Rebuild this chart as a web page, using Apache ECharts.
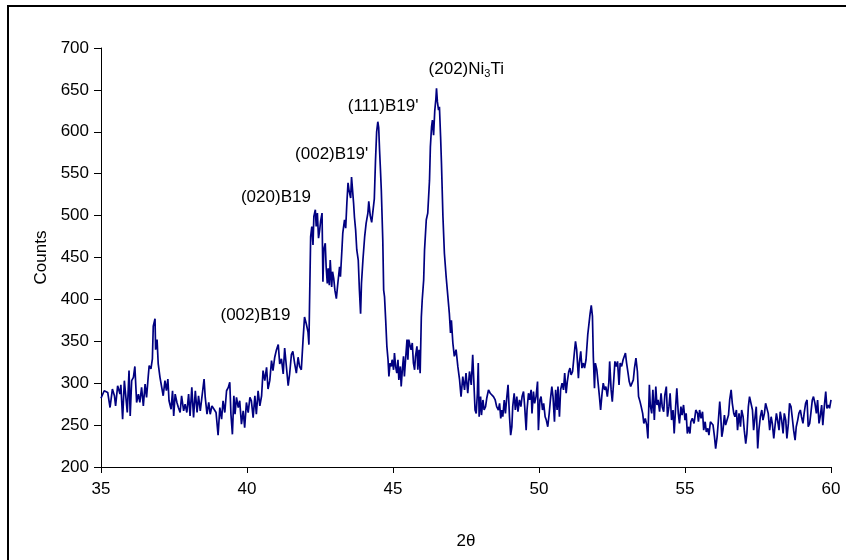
<!DOCTYPE html>
<html>
<head>
<meta charset="utf-8">
<script src="https://cdn.jsdelivr.net/npm/echarts@6/dist/echarts.min.js"></script>
<style>
html,body{margin:0;padding:0;background:#fff;}
#chart{width:846px;height:560px;}
</style>
</head>
<body>
<div id="chart"></div>
<script>
// 2θ positions (degrees)
var twoTheta = [
35.00,35.11,35.23,35.31,35.39,35.46,35.50,35.57,35.65,35.68,
35.74,35.80,35.84,35.90,35.96,36.00,36.05,36.11,36.16,36.22,
36.28,36.33,36.39,36.45,36.51,36.56,36.62,36.65,36.71,36.76,
36.79,36.85,36.87,36.92,36.96,37.02,37.08,37.13,37.19,37.24,
37.29,37.33,37.40,37.45,37.49,37.54,37.60,37.65,37.71,37.76,
37.83,37.88,37.94,38.00,38.05,38.11,38.17,38.23,38.29,38.34,
38.40,38.46,38.53,38.57,38.63,38.69,38.74,38.80,38.86,38.94,
39.01,39.07,39.13,39.18,39.24,39.30,39.36,39.41,39.45,39.50,
39.55,39.59,39.64,39.70,39.75,39.81,39.87,39.92,39.98,40.04,
40.10,40.15,40.21,40.27,40.32,40.38,40.44,40.50,40.55,40.61,
40.67,40.72,40.78,40.84,40.89,40.95,41.01,41.07,41.12,41.18,
41.24,41.29,41.35,41.41,41.46,41.52,41.57,41.63,41.69,41.75,
41.80,41.86,41.92,41.97,42.03,42.09,42.12,42.14,42.18,42.22,
42.26,42.29,42.34,42.37,42.41,42.45,42.49,42.52,42.57,42.60,
42.63,42.68,42.71,42.75,42.78,42.82,42.85,42.90,42.93,42.97,
43.01,43.06,43.11,43.17,43.20,43.25,43.28,43.34,43.38,43.42,
43.46,43.49,43.55,43.58,43.60,43.65,43.68,43.72,43.76,43.81,
43.85,43.89,43.92,43.97,44.03,44.08,44.14,44.17,44.22,44.27,
44.32,44.36,44.40,44.44,44.48,44.51,44.54,44.57,44.60,44.65,
44.68,44.71,44.75,44.79,44.83,44.86,44.90,44.94,44.97,45.02,
45.05,45.09,45.13,45.17,45.20,45.25,45.28,45.32,45.36,45.39,
45.43,45.48,45.51,45.54,45.59,45.62,45.66,45.70,45.74,45.77,
45.82,45.85,45.89,45.93,45.97,46.00,46.05,46.08,46.14,46.19,
46.25,46.28,46.32,46.35,46.39,46.43,46.47,46.49,46.52,46.56,
46.59,46.63,46.66,46.71,46.76,46.82,46.88,46.93,46.97,47.00,
47.05,47.10,47.16,47.22,47.28,47.33,47.39,47.45,47.50,47.56,
47.62,47.68,47.73,47.77,47.81,47.85,47.89,47.92,47.95,48.00,
48.03,48.08,48.12,48.17,48.21,48.27,48.33,48.38,48.44,48.50,
48.55,48.61,48.65,48.69,48.73,48.76,48.81,48.85,48.90,48.94,
48.99,49.03,49.07,49.10,49.15,49.19,49.24,49.28,49.33,49.38,
49.42,49.47,49.51,49.56,49.59,49.64,49.68,49.73,49.76,49.81,
49.85,49.90,49.95,49.98,50.03,50.07,50.12,50.16,50.21,50.25,
50.30,50.35,50.39,50.44,50.48,50.53,50.57,50.62,50.65,50.70,
50.74,50.79,50.84,50.88,50.93,50.97,51.02,51.06,51.10,51.15,
51.21,51.25,51.29,51.35,51.38,51.43,51.47,51.52,51.56,51.61,
51.67,51.70,51.75,51.79,51.83,51.86,51.90,51.93,51.98,52.02,
52.07,52.11,52.16,52.20,52.25,52.29,52.34,52.39,52.42,52.47,
52.51,52.56,52.60,52.65,52.69,52.74,52.78,52.83,52.88,52.92,
52.96,53.00,53.05,53.09,53.14,53.18,53.23,53.27,53.32,53.37,
53.41,53.46,53.50,53.55,53.59,53.64,53.69,53.73,53.78,53.81,
53.86,53.90,53.95,54.00,54.04,54.08,54.13,54.18,54.22,54.27,
54.31,54.36,54.40,54.45,54.49,54.54,54.59,54.63,54.68,54.72,
54.77,54.81,54.86,54.90,54.95,55.00,55.04,55.08,55.12,55.17,
55.20,55.25,55.31,55.37,55.43,55.46,55.50,55.55,55.60,55.64,
55.69,55.73,55.78,55.82,55.87,55.92,55.96,56.01,56.05,56.10,
56.14,56.19,56.22,56.26,56.30,56.35,56.39,56.44,56.49,56.53,
56.58,56.62,56.67,56.71,56.76,56.80,56.85,56.90,56.94,56.99,
57.03,57.08,57.12,57.17,57.21,57.26,57.31,57.35,57.40,57.44,
57.49,57.53,57.58,57.63,57.67,57.72,57.76,57.81,57.85,57.90,
57.95,57.99,58.04,58.08,58.13,58.17,58.22,58.26,58.31,58.36,
58.40,58.45,58.49,58.54,58.58,58.63,58.67,58.72,58.77,58.81,
58.86,58.90,58.95,58.99,59.04,59.08,59.13,59.18,59.22,59.27,
59.31,59.36,59.40,59.45,59.50,59.54,59.59,59.63,59.68,59.72,
59.77,59.82,59.86,59.91,59.95,60.00
];
// Counts at each 2θ
var counts = [
282,291,289,271,293,285,273,297,287,298,
257,303,305,265,315,261,303,307,320,277,
287,277,295,273,299,283,309,321,317,329,
368,377,340,352,323,307,305,285,303,291,
305,279,269,291,261,287,277,271,265,285,
267,275,265,287,261,295,259,291,265,285,
267,269,305,283,263,277,263,273,271,265,
238,271,257,279,265,291,295,301,263,239,
285,263,283,271,279,251,267,247,277,265,
283,279,259,285,263,291,273,285,315,303,
319,293,303,327,315,331,340,346,323,329,
311,342,340,297,311,334,338,324,312,331,
320,316,352,379,371,361,346,391,475,487,
465,499,507,487,503,473,483,493,503,421,
459,467,439,419,437,417,447,415,433,425,
411,401,419,439,427,459,479,495,485,515,
539,531,521,546,548,515,498,483,459,447,
411,383,419,447,475,491,503,517,500,492,
494,520,565,600,612,605,578,555,530,471,
411,403,375,344,328,308,324,320,328,316,
336,320,312,328,304,320,296,316,332,308,
328,352,328,352,344,340,348,324,316,332,
344,316,340,312,379,399,423,459,495,503,
542,582,606,614,596,625,640,652,636,626,
630,594,562,499,455,427,403,383,360,375,
348,332,340,320,304,284,308,292,312,288,
314,298,334,336,268,264,288,324,260,284,
262,280,268,272,282,292,288,290,284,280,
272,268,276,258,268,260,280,264,284,298,
260,238,248,272,288,268,284,266,280,272,
284,290,272,244,268,288,280,292,264,290,
276,284,302,244,280,284,268,276,260,256,
248,264,280,296,284,254,292,268,296,260,
292,300,292,312,288,302,314,318,310,314,
336,350,340,306,324,338,318,324,318,328,
358,360,383,393,380,332,294,324,316,316,
284,268,288,300,292,296,284,300,326,292,
278,304,326,320,326,298,324,320,328,330,
336,324,312,302,296,294,304,318,330,314,
284,278,272,264,252,258,250,234,298,274,
264,292,256,296,274,280,266,288,272,266,
286,296,260,272,288,256,268,240,272,294,
264,252,272,262,274,256,264,240,248,240,
254,258,252,268,264,254,268,258,266,244,
254,242,246,238,254,256,250,236,222,236,
254,278,264,236,244,262,250,256,262,280,
292,276,264,260,268,244,264,248,268,260,
244,228,240,272,284,286,268,244,260,272,
222,244,260,268,256,264,276,274,264,244,
260,252,234,248,264,256,244,266,256,240,
264,256,234,252,276,272,260,244,232,248,
256,264,268,260,252,264,276,280,248,252,
264,280,284,276,264,280,252,260,274,250,
272,290,270,274,270,280
];
// Axis tick settings
var xMin = 35, xMax = 60, xStep = 5;
var yMin = 200, yMax = 700, yStep = 50;
// Peak annotations
var peakNames = ['(002)B19', '(020)B19', "(002)B19'", "(111)B19'", '(202)Ni{s|3}Ti'];
var peakTheta = [40.29, 40.99, 42.90, 44.66, 47.51];
var peakCounts = [381, 522, 573, 630, 674];

var seriesData = twoTheta.map(function (t, i) { return [t, counts[i]]; });
var FONT = '"Liberation Sans", Arial, sans-serif';
var markData = peakNames.map(function (n, i) {
  return {
    coord: [peakTheta[i], peakCounts[i]],
    value: n,
    label: { formatter: n }
  };
});

var chart = echarts.init(document.getElementById('chart'), null, { renderer: 'canvas' });
chart.setOption({
  animation: false,
  backgroundColor: '#ffffff',
  textStyle: { fontFamily: FONT },
  graphic: [{
    type: 'rect',
    shape: { x: 8, y: 6, width: 900, height: 700 },
    style: { fill: 'none', stroke: '#000', lineWidth: 2 },
    silent: true
  }],
  grid: { left: 101, right: 15, top: 48, bottom: 93, containLabel: false },
  xAxis: {
    type: 'value', min: xMin, max: xMax, interval: xStep,
    name: '2θ', nameLocation: 'middle', nameGap: 66,
    nameTextStyle: { color: '#000', fontSize: 17, fontFamily: FONT },
    axisLine: { show: true, onZero: false, lineStyle: { color: '#000', width: 1 } },
    axisTick: { show: true, length: 6, lineStyle: { color: '#000' } },
    axisLabel: { color: '#000', fontSize: 17, fontFamily: FONT, margin: 14 },
    splitLine: { show: false }
  },
  yAxis: {
    type: 'value', min: yMin, max: yMax, interval: yStep,
    name: 'Counts', nameLocation: 'middle', nameGap: 50, nameRotate: 90,
    nameTextStyle: { color: '#000', fontSize: 17, fontFamily: FONT },
    axisLine: { show: true, lineStyle: { color: '#000', width: 1 } },
    axisTick: { show: true, length: 7, lineStyle: { color: '#000' } },
    axisLabel: { color: '#000', fontSize: 17, fontFamily: FONT, margin: 12 },
    splitLine: { show: false }
  },
  series: [{
    type: 'line',
    data: seriesData,
    showSymbol: false,
    symbol: 'none',
    lineStyle: { color: '#000080', width: 1.7 },
    itemStyle: { color: '#000080' },
    markPoint: {
      symbol: 'rect',
      symbolSize: 1,
      itemStyle: { color: 'rgba(0,0,0,0)' },
      label: {
        show: true, position: 'inside', color: '#000', fontSize: 17, fontFamily: FONT,
        rich: { s: { fontSize: 11, fontFamily: FONT, color: '#000', padding: [9, 0, 0, 0] } }
      },
      data: markData
    }
  }]
});
</script>
</body>
</html>
